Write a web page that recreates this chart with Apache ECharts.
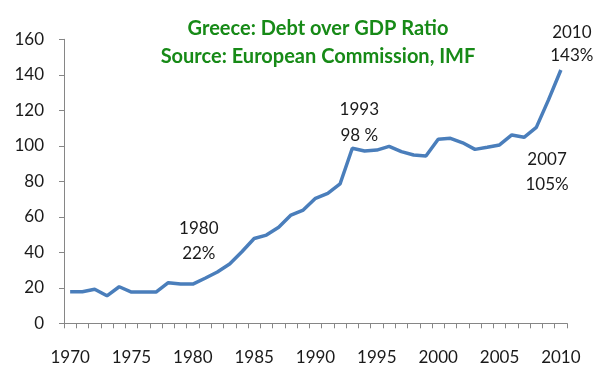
<!DOCTYPE html>
<html>
<head>
<meta charset="utf-8">
<script src="https://cdn.jsdelivr.net/npm/echarts@6/dist/echarts.min.js"></script>
<style>html,body{margin:0;padding:0;background:#fff;}#c{width:602px;height:382px;}</style>
</head>
<body>
<div id="c"></div>
<script>
const years = ['1970','1971','1972','1973','1974','1975','1976','1977','1978','1979',
  '1980','1981','1982','1983','1984','1985','1986','1987','1988','1989',
  '1990','1991','1992','1993','1994','1995','1996','1997','1998','1999',
  '2000','2001','2002','2003','2004','2005','2006','2007','2008','2009','2010'];
const debtRatio = [17.8,17.8,19.2,15.5,20.6,17.6,17.6,17.6,22.9,22.1,
  22.1,25.4,28.9,33.4,40.3,47.8,49.7,54.1,61.0,63.8,
  70.4,73.2,78.5,98.6,97.1,97.6,99.7,96.7,94.8,94.3,
  103.7,104.2,101.7,98.0,99.2,100.5,106.1,104.8,110.4,126.0,142.7];
const yTicks = {min: 0, max: 160, interval: 20};
const titleLines = ['Greece: Debt over GDP Ratio', 'Source: European Commission, IMF'];
const annotationYears = ['1980', '1993', '2007', '2010'];
const annotationTexts = ['1980\n22%', '1993\n98 %', '2007\n105%', '2010\n143%'];
const annotationOffsets = [[6, -43], [7, -26], [23, 35], [11, -26]];
const annotationLineHeights = [25, 26, 25, 23];

const chart = echarts.init(document.getElementById('c'), null, {renderer: 'canvas'});
const font = 'Lato';
chart.setOption({
  animation: false,
  backgroundColor: '#ffffff',
  title: {
    text: titleLines.join('\n'),
    left: 313,
    top: 10,
    textAlign: 'center',
    textStyle: {fontFamily: font, fontWeight: 'bold', fontSize: 20, color: '#178a17', lineHeight: 28}
  },
  grid: {left: 64, right: 35, top: 39.3, bottom: 58.7, containLabel: false},
  xAxis: {
    type: 'category',
    data: years,
    boundaryGap: true,
    axisLine: {lineStyle: {color: '#868686', width: 1}},
    axisTick: {show: true, interval: 0, length: 5, lineStyle: {color: '#868686'}},
    axisLabel: {interval: 4, margin: 26, fontFamily: font, fontSize: 17, color: '#1a1a1a'},
    splitLine: {show: false}
  },
  yAxis: {
    type: 'value',
    min: yTicks.min, max: yTicks.max, interval: yTicks.interval,
    axisLine: {show: true, lineStyle: {color: '#868686', width: 1}},
    axisTick: {show: true, length: 5, lineStyle: {color: '#868686'}},
    axisLabel: {margin: 20, fontFamily: font, fontSize: 17, color: '#1a1a1a'},
    splitLine: {show: false}
  },
  series: [{
    type: 'line',
    data: debtRatio,
    symbol: 'none',
    smooth: false,
    lineStyle: {color: '#4a7ebb', width: 3.5},
    markPoint: {
      symbol: 'circle',
      symbolSize: 1,
      itemStyle: {color: 'rgba(0,0,0,0)'},
      data: annotationYears.map((y, i) => ({
        coord: [y, debtRatio[years.indexOf(y)]],
        label: {
          show: true,
          formatter: annotationTexts[i],
          offset: annotationOffsets[i],
          lineHeight: annotationLineHeights[i],
          fontFamily: font, fontSize: 17, color: '#1a1a1a', align: 'center', verticalAlign: 'middle'
        }
      }))
    }
  }]
});
</script>
</body>
</html>
